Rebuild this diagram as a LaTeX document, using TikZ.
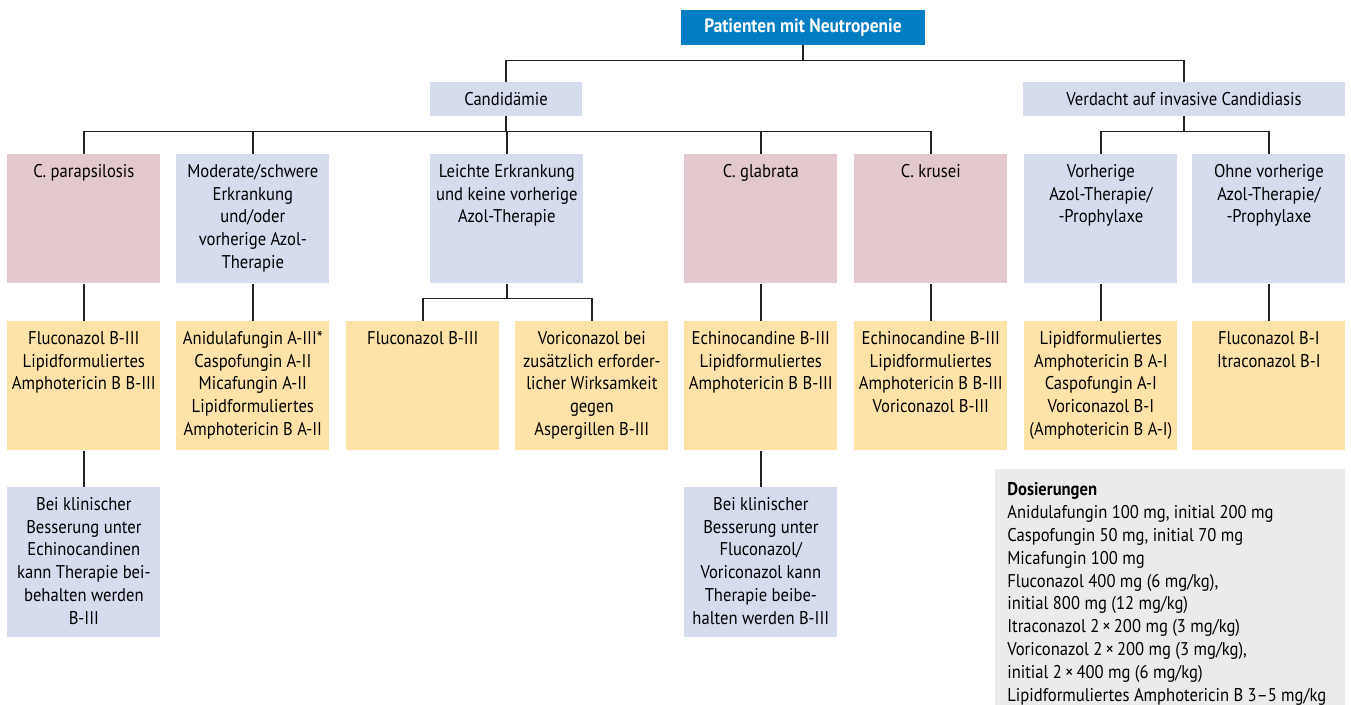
\documentclass[tikz,border=0pt]{standalone}
\usepackage{fontspec}
\setmainfont{PT Sans}[FakeStretch=0.9]
\usepackage{tikz}
\usetikzlibrary{positioning}
\usepackage{xcolor}
\definecolor{nbblue}{RGB}{0,125,195}
\definecolor{nblight}{RGB}{212,220,238}
\definecolor{nbpink}{RGB}{227,201,205}
\definecolor{nbyellow}{RGB}{255,226,168}
\definecolor{nbgray}{RGB}{235,235,235}
\definecolor{nbline}{RGB}{35,35,35}
\tikzstyle{cell} = [rectangle, inner sep=0pt, anchor=north west, font=\fontsize{10.5}{13}\selectfont]
\tikzstyle{head} = [rectangle, inner sep=0pt, minimum height=0.68cm, font=\fontsize{10.5}{13}\selectfont]
\tikzstyle{link} = [line width=0.9pt, color=nbline]
\newcommand{\celltext}[2]{\parbox[c][#1][t]{3.06cm}{\centering\rule{0pt}{13pt}#2}}

\begin{document}
\begin{tikzpicture}[x=0.02cm, y=-0.02cm]
\useasboundingbox (0,0) rectangle (1351,704);
% Kopf
\node (top) [head, fill=nbblue, text=white, minimum width=4.88cm, minimum height=0.7cm, font=\fontsize{11}{13}\selectfont\bfseries] at (803,27.5) {Patienten mit Neutropenie};
\node (cand) [head, fill=nblight, minimum width=3.04cm] at (506,99) {Candidämie};
\node (verd) [head, fill=nblight, minimum width=6.44cm] at (1184,99) {Verdacht auf invasive Candidiasis};

% Gruppen
\node (para) [cell, fill=nbpink] at (7,154) {\celltext{2.58cm}{C. parapsilosis}};
\node (mod) [cell, fill=nblight] at (176,154) {\celltext{2.58cm}{Moderate/schwere\\Erkrankung\\und/oder\\vorherige Azol-\\Therapie}};
\node (leicht) [cell, fill=nblight] at (430,154) {\celltext{2.58cm}{Leichte Erkrankung\\und keine vorherige\\Azol-Therapie}};
\node (glab) [cell, fill=nbpink] at (684,154) {\celltext{2.58cm}{C. glabrata}};
\node (krus) [cell, fill=nbpink] at (854,154) {\celltext{2.58cm}{C. krusei}};
\node (vorh) [cell, fill=nblight] at (1024,154) {\celltext{2.58cm}{Vorherige\\Azol-Therapie/\\-Prophylaxe}};
\node (ohne) [cell, fill=nblight] at (1192,154) {\celltext{2.58cm}{Ohne vorherige\\Azol-Therapie/\\-Prophylaxe}};

% Therapie
\node (tpara) [cell, fill=nbyellow] at (7,321) {\celltext{2.58cm}{Fluconazol B-III\\Lipidformuliertes\\Amphotericin B B-III}};
\node (tmod) [cell, fill=nbyellow] at (176,321) {\celltext{2.58cm}{Anidulafungin A-III*\\Caspofungin A-II\\Micafungin A-II\\Lipidformuliertes\\Amphotericin B A-II}};
\node (tfluc) [cell, fill=nbyellow] at (346,321) {\celltext{2.58cm}{Fluconazol B-III}};
\node (tvori) [cell, fill=nbyellow] at (515,321) {\celltext{2.58cm}{Voriconazol bei\\zusätzlich erforder-\\licher Wirksamkeit\\gegen\\Aspergillen B-III}};
\node (tglab) [cell, fill=nbyellow] at (684,321) {\celltext{2.58cm}{Echinocandine B-III\\Lipidformuliertes\\Amphotericin B B-III}};
\node (tkrus) [cell, fill=nbyellow] at (854,321) {\celltext{2.58cm}{Echinocandine B-III\\Lipidformuliertes\\Amphotericin B B-III\\Voriconazol B-III}};
\node (tvorh) [cell, fill=nbyellow] at (1024,321) {\celltext{2.58cm}{Lipidformuliertes\\Amphotericin B A-I\\Caspofungin A-I\\Voriconazol B-I\\(Amphotericin B A-I)}};
\node (tohne) [cell, fill=nbyellow] at (1192,321) {\celltext{2.58cm}{Fluconazol B-I\\Itraconazol B-I}};

% Weiterfuehrung
\node (bpara) [cell, fill=nblight] at (7,487) {\celltext{3cm}{Bei klinischer\\Besserung unter\\Echinocandinen\\kann Therapie bei-\\behalten werden\\B-III}};
\node (bglab) [cell, fill=nblight] at (684,487) {\celltext{3cm}{Bei klinischer\\Besserung unter\\Fluconazol/\\Voriconazol kann\\Therapie beibe-\\halten werden B-III}};

% Dosierungen
\node (dosis) [cell, fill=nbgray] at (995,469) {\parbox[c][5cm][t]{7cm}{\raggedright\leftskip=0.24cm\rule{0pt}{15pt}\textbf{Dosierungen}\\
Anidulafungin 100 mg, initial 200 mg\\
Caspofungin 50 mg, initial 70 mg\\
Micafungin 100 mg\\
Fluconazol 400 mg (6 mg/kg),\\
initial 800 mg (12 mg/kg)\\
Itraconazol 2\,×\,200 mg (3 mg/kg)\\
Voriconazol 2\,×\,200 mg (3 mg/kg),\\
initial 2\,×\,400 mg (6 mg/kg)\\
Lipidformuliertes Amphotericin B 3–5 mg/kg}};

% Verbindungen
\draw[link] (top.south) -- ++(0,15) -| (cand.north);
\draw[link] (top.south) -- ++(0,15) -| (verd.north);
\foreach \n in {para,mod,leicht,glab,krus}
  \draw[link] (cand.south) -- ++(0,15) -| (\n.north);
\foreach \n in {vorh,ohne}
  \draw[link] (verd.south) -- ++(0,15) -| (\n.north);
\foreach \a/\b in {para/tpara,mod/tmod,glab/tglab,krus/tkrus,vorh/tvorh,ohne/tohne,tpara/bpara,tglab/bglab}
  \draw[link] (\a.south) -- (\b.north);
\foreach \n in {tfluc,tvori}
  \draw[link] (leicht.south) -- ++(0,15) -| (\n.north);
\end{tikzpicture}
\end{document}
